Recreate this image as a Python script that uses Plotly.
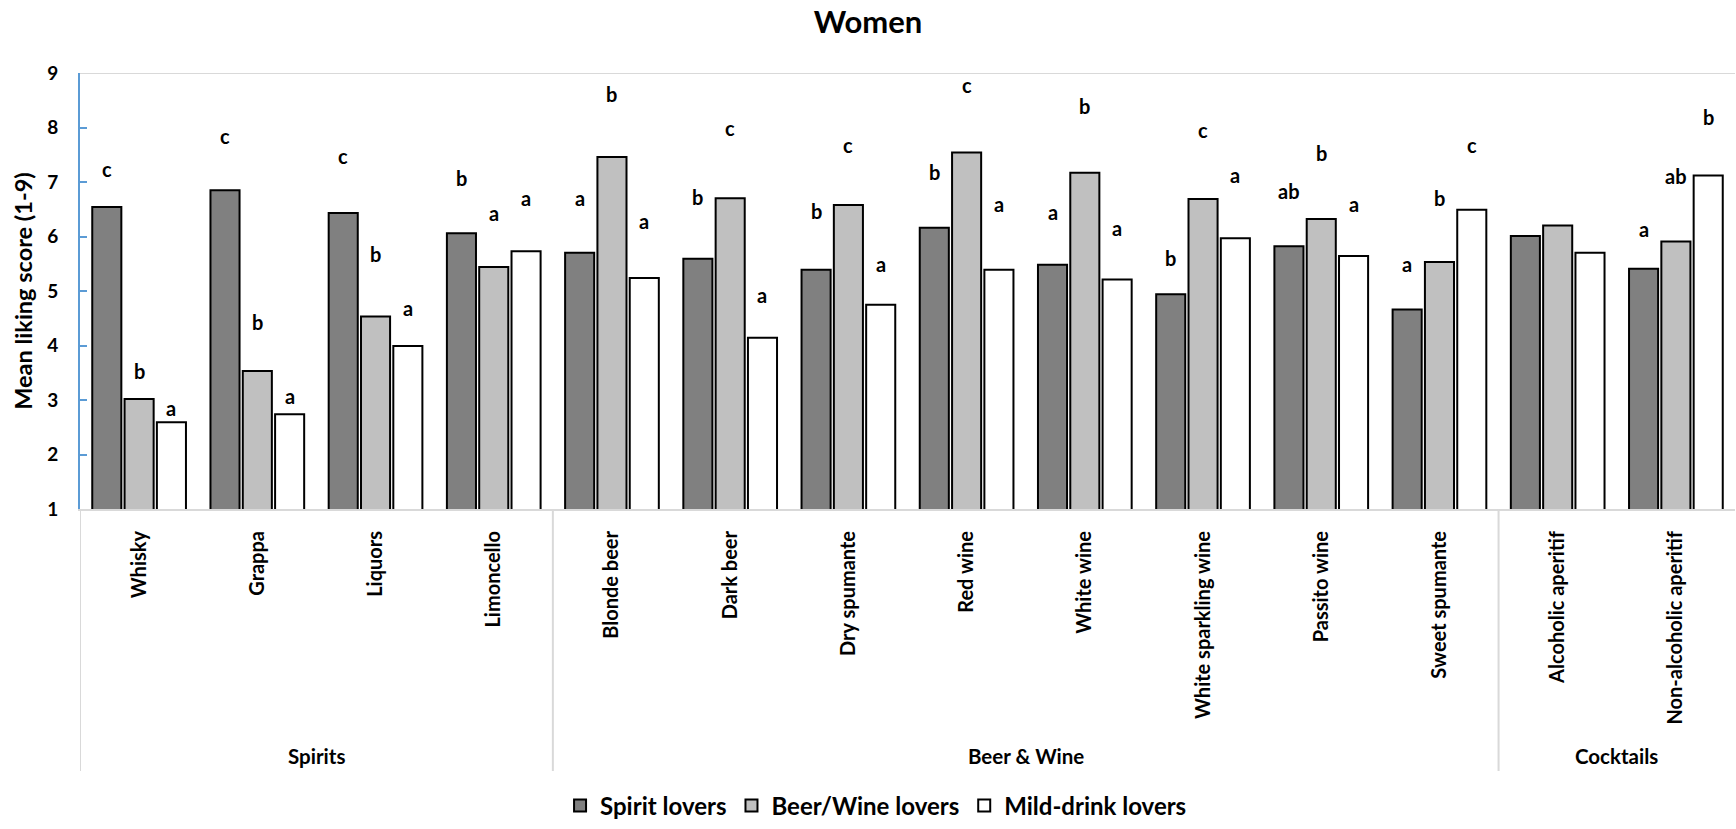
import plotly.graph_objects as go

# Mean liking scores (1-9) for women, by drinker cluster
categories = ["Whisky", "Grappa", "Liquors", "Limoncello", "Blonde beer", "Dark beer",
              "Dry spumante", "Red wine", "White wine", "White sparkling wine",
              "Passito wine", "Sweet spumante", "Alcoholic aperitif", "Non-alcoholic aperitif"]
groups = ["Spirits", "Beer & Wine", "Cocktails"]
group_sizes = [4, 8, 2]

series_names = ["Spirit lovers", "Beer/Wine lovers", "Mild-drink lovers"]
spirit_lovers = [6.54, 6.85, 6.43, 6.06, 5.70, 5.59, 5.39, 6.16, 5.48, 4.94, 5.82, 4.66, 6.01, 5.41]
beer_wine_lovers = [3.02, 3.53, 4.53, 5.44, 7.46, 6.70, 6.58, 7.54, 7.17, 6.69, 6.32, 5.53, 6.20, 5.91]
mild_drink_lovers = [2.59, 2.74, 3.99, 5.73, 5.24, 4.14, 4.75, 5.39, 5.21, 5.97, 5.64, 6.49, 5.70, 7.12]

# Significance letters (Tukey groups) and the height each letter sits at
spirit_letters = ["c", "c", "c", "b", "a", "b", "b", "b", "a", "b", "ab", "a", "", "a"]
beer_wine_letters = ["b", "b", "b", "a", "b", "c", "c", "c", "b", "c", "b", "b", "", "ab"]
mild_letters = ["a", "a", "a", "a", "a", "a", "a", "a", "a", "a", "a", "c", "", "b"]
spirit_letter_y = [7.23, 7.85, 7.47, 7.08, 6.71, 6.73, 6.46, 7.18, 6.45, 5.60, 6.83, 5.50, None, 6.13]
beer_wine_letter_y = [3.54, 4.43, 5.68, 6.44, 8.62, 8.00, 7.68, 8.78, 8.39, 7.96, 7.53, 6.71, None, 7.11]
mild_letter_y = [2.85, 3.08, 4.68, 6.71, 6.29, 4.92, 5.50, 6.60, 6.16, 7.13, 6.59, 7.68, None, 8.20]

FONT = "Lato"
colors = ["#808080", "#C0C0C0", "#FFFFFF"]
BARGAP = 0.18
BARGROUPGAP = 0.1

xs = list(range(len(categories)))
values = [spirit_lovers, beer_wine_lovers, mild_drink_lovers]
letters = [spirit_letters, beer_wine_letters, mild_letters]
letter_ys = [spirit_letter_y, beer_wine_letter_y, mild_letter_y]

fig = go.Figure()
for name, vals, col in zip(series_names, values, colors):
    fig.add_trace(go.Bar(
        x=xs, y=vals, name=name,
        marker=dict(color=col, line=dict(color="#000000", width=2)),
    ))

# letters centred over each bar of the group
slot = (1 - BARGAP) / 3
annotations = []
for k in range(3):
    for i, (txt, ly) in enumerate(zip(letters[k], letter_ys[k])):
        if not txt or ly is None:
            continue
        annotations.append(dict(
            x=i + (k - 1) * slot, y=ly, xref="x", yref="y", text=txt,
            showarrow=False, xanchor="center", yanchor="middle",
            font=dict(family=FONT, size=20, color="#000000", weight="bold"),
        ))

# group labels and dividers under the category labels
shapes = []
start = 0
plot_h = 511.5 - 73
for g, n in zip(groups, group_sizes):
    annotations.append(dict(
        x=start + (n - 1) / 2, y=(511.5 - 760) / plot_h, xref="x", yref="paper",
        text=g, showarrow=False, xanchor="center", yanchor="middle",
        font=dict(family=FONT, size=20.5, color="#000000", weight="bold"),
    ))
    shapes.append(dict(type="line", xref="x", yref="paper",
                       x0=start - 0.5, x1=start - 0.5, y0=0, y1=(511.5 - 775) / plot_h,
                       line=dict(color="#D9D9D9", width=2)))
    start += n

# top border line at the axis maximum
shapes.append(dict(type="line", xref="paper", yref="y", x0=0, x1=1, y0=9, y1=9,
                   line=dict(color="#D9D9D9", width=2)))

fig.update_layout(
    width=1736, height=829,
    margin=dict(l=80, r=1, t=73, b=829 - 511.5),
    paper_bgcolor="#FFFFFF", plot_bgcolor="#FFFFFF",
    barmode="group", bargap=BARGAP, bargroupgap=BARGROUPGAP,
    title=dict(text="Women", x=0.5, xanchor="center", y=1 - 22 / 829, yanchor="middle",
               font=dict(family=FONT, size=31, color="#000000", weight="bold")),
    xaxis=dict(
        tickmode="array", tickvals=xs, ticktext=categories, tickangle=-90,
        range=[-0.5, len(categories) - 0.5],
        showline=True, linecolor="#D9D9D9", linewidth=2, ticks="",
        showgrid=False, zeroline=False, ticklabelstandoff=12,
        tickfont=dict(family=FONT, size=20, color="#000000", weight="bold"),
    ),
    yaxis=dict(
        range=[1, 9], dtick=1, tick0=1, showgrid=False, zeroline=False,
        showline=True, linecolor="#5B9BD5", linewidth=2,
        ticks="inside", ticklen=7, tickwidth=2, tickcolor="#5B9BD5",
        ticklabelstandoff=16,
        tickfont=dict(family=FONT, size=19, color="#000000", weight="bold"),
        title=dict(text="Mean liking score (1-9)", standoff=8,
                   font=dict(family=FONT, size=23.5, color="#000000", weight="bold")),
    ),
    legend=dict(orientation="h", x=0.481, xanchor="center", y=(511.5 - 810) / plot_h,
                yanchor="middle", font=dict(family=FONT, size=24, color="#000000", weight="bold"),
                traceorder="normal", itemwidth=30),
    annotations=annotations, shapes=shapes,
)

fig.write_html("out.html")
